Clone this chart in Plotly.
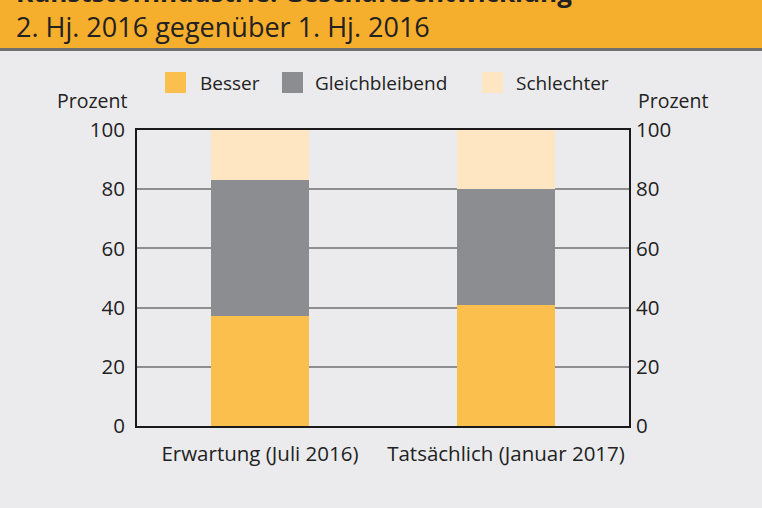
import plotly.graph_objects as go

categories = ["Erwartung (Juli 2016)", "Tatsächlich (Januar 2017)"]
series_names = ["Besser", "Gleichbleibend", "Schlechter"]
besser = [37, 41]
gleich = [46, 39]
schlechter = [17, 20]
y_ticks = [0, 20, 40, 60, 80, 100]

colors = ["#FBBF4E", "#8C8D90", "#FEE6C2"]
values = [besser, gleich, schlechter]

W, H = 762, 508
L, R, T, B = 137, 133, 130, 82
ph = H - T - B

def py(p):
    return (H - B - p) / ph

def px(p):
    return (p - L) / (W - L - R)

FONT = "Open Sans"
fig = go.Figure()
for name, vals, col in zip(series_names, values, colors):
    fig.add_trace(go.Bar(x=categories, y=vals, name=name, marker=dict(color=col, line=dict(width=0)),
                         showlegend=False))
# invisible trace for right axis
fig.add_trace(go.Scatter(x=categories, y=[0, 0], yaxis="y2", mode="markers",
                         marker=dict(opacity=0), showlegend=False, hoverinfo="skip"))

shapes = [
    dict(type="rect", xref="paper", yref="paper", x0=-0.3, x1=1.3, y0=py(48), y1=py(-5),
         fillcolor="#F6AE2D", line=dict(width=0), layer="below"),
    dict(type="rect", xref="paper", yref="paper", x0=-0.3, x1=1.3, y0=py(51), y1=py(48),
         fillcolor="#707070", line=dict(width=0), layer="below"),
]
annotations = [
    dict(text="<b>Kunststoffindustrie: Geschäftsentwicklung</b>", xref="paper", yref="paper",
         x=px(14), y=py(12), xanchor="left", yanchor="bottom", showarrow=False,
         font=dict(family=FONT, size=26, color="#222222")),
    dict(text="2. Hj. 2016 gegenüber 1. Hj. 2016", xref="paper", yref="paper",
         x=px(14), y=py(27), xanchor="left", yanchor="middle", showarrow=False,
         font=dict(family=FONT, size=27, color="#222222")),
    dict(text="Prozent", xref="paper", yref="paper", x=px(129), y=py(101), xanchor="right",
         yanchor="middle", showarrow=False, font=dict(family=FONT, size=19.5, color="#222222")),
    dict(text="Prozent", xref="paper", yref="paper", x=px(636), y=py(101), xanchor="left",
         yanchor="middle", showarrow=False, font=dict(family=FONT, size=19.5, color="#222222")),
]
# custom legend
leg_sq = [165, 282, 482]
leg_tx = [198, 313, 514]
for name, col, sx, tx in zip(series_names, colors, leg_sq, leg_tx):
    shapes.append(dict(type="rect", xref="paper", yref="paper", x0=px(sx), x1=px(sx + 21),
                       y0=py(93), y1=py(72), fillcolor=col, line=dict(width=0)))
    annotations.append(dict(text=name, xref="paper", yref="paper", x=px(tx), y=py(83),
                            xanchor="left", yanchor="middle", showarrow=False,
                            font=dict(family=FONT, size=19, color="#222222")))

fig.update_layout(
    width=W, height=H, margin=dict(l=L, r=R, t=T, b=B),
    barmode="stack", bargap=0.6,
    paper_bgcolor="#EBEBED", plot_bgcolor="#EBEBED",
    font=dict(family=FONT, size=19, color="#222222"),
    shapes=shapes, annotations=annotations,
    xaxis=dict(showline=True, mirror=True, linecolor="#1a1a1a", linewidth=2, layer="below traces",
               showgrid=False, ticks="", tickfont=dict(size=20.5, color="#222222"),
               ticklabelstandoff=8),
    yaxis=dict(range=[0, 100], tickvals=y_ticks, showline=True, mirror=True, linecolor="#1a1a1a",
               linewidth=2, gridcolor="#8f8f8f", gridwidth=1.5, layer="below traces",
               zeroline=False, ticks="", tickfont=dict(size=20.5, color="#222222"),
               ticklabelstandoff=6),
    yaxis2=dict(range=[0, 100], tickvals=y_ticks, overlaying="y", side="right", showline=False,
                showgrid=False, zeroline=False, ticks="", tickfont=dict(size=20.5, color="#222222"),
                ticklabelstandoff=6),
    showlegend=False,
)
fig.write_html("out.html")
